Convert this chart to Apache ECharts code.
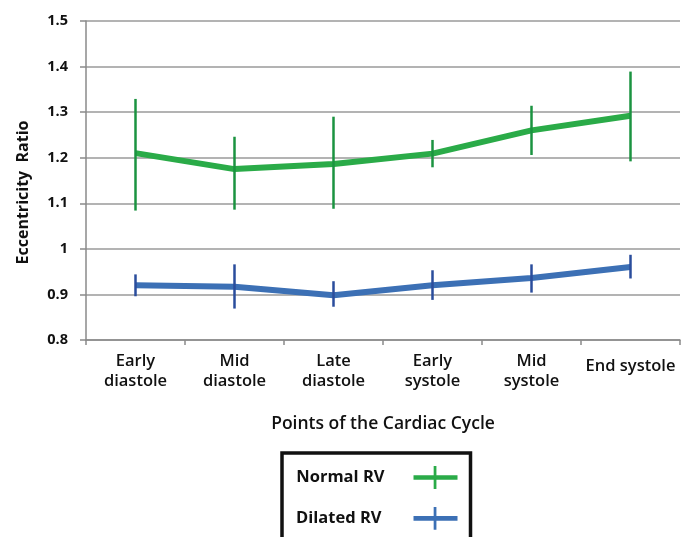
<!DOCTYPE html>
<html>
<head>
<meta charset="utf-8">
<script src="https://cdn.jsdelivr.net/npm/echarts@6/dist/echarts.min.js"></script>
<style>html,body{margin:0;padding:0;background:#fff}#c{width:682px;height:537px}</style>
</head>
<body>
<div id="c"></div>
<script>
const categories = ['Early\ndiastole', 'Mid\ndiastole', 'Late\ndiastole', 'Early\nsystole', 'Mid\nsystole', 'End systole'];
const normalMean = [1.21, 1.175, 1.186, 1.209, 1.26, 1.292];
const normalLow = [1.084, 1.086, 1.088, 1.179, 1.206, 1.192];
const normalHigh = [1.329, 1.246, 1.29, 1.239, 1.314, 1.389];
const dilatedMean = [0.92, 0.917, 0.898, 0.92, 0.936, 0.96];
const dilatedLow = [0.896, 0.869, 0.873, 0.888, 0.904, 0.935];
const dilatedHigh = [0.944, 0.966, 0.929, 0.953, 0.966, 0.987];
const yMin = 0.8, yMax = 1.5, yStep = 0.1;

const FONT = 'Open Sans';
function errData(low, high) { return low.map((l, i) => [i, l, high[i]]); }
function errSeries(low, high, color, width) {
  return {
    type: 'custom', z: 5, silent: true,
    data: errData(low, high),
    encode: { x: 0, y: [1, 2] },
    renderItem: function (params, api) {
      const a = api.coord([api.value(0), api.value(1)]);
      const b = api.coord([api.value(0), api.value(2)]);
      return { type: 'line', shape: { x1: a[0], y1: a[1], x2: b[0], y2: b[1] }, style: { stroke: color, lineWidth: width } };
    }
  };
}
const iconPath = 'path://M0,10H22V0H25V10H48V15H25V25H22V15H0Z';
const chart = echarts.init(document.getElementById('c'));
chart.setOption({
  animation: false,
  grid: { left: 86, right: 2, top: 21, bottom: 197, containLabel: false },
  xAxis: {
    type: 'category', data: categories, boundaryGap: true,
    name: 'Points of the Cardiac Cycle', nameLocation: 'middle', nameGap: 75,
    nameTextStyle: { fontFamily: FONT, fontSize: 17.5, fontWeight: 600, color: '#111' },
    axisLine: { lineStyle: { color: '#8a8a8a', width: 1.5 } },
    axisTick: { show: true, length: 5, lineStyle: { color: '#8a8a8a', width: 1.5 } },
    axisLabel: { fontFamily: FONT, fontSize: 16.5, fontWeight: 600, color: '#111', lineHeight: 20, margin: 11, interval: 0,
      formatter: v => v.indexOf('\n') < 0 ? '{s|' + v + '}' : v,
      rich: { s: { fontFamily: FONT, fontSize: 16.5, fontWeight: 600, color: '#111', lineHeight: 20, padding: [10, 0, 0, 0] } } }
  },
  yAxis: {
    type: 'value', min: yMin, max: yMax, interval: yStep,
    name: 'Eccentricity  Ratio', nameLocation: 'middle', nameGap: 55, nameRotate: 90,
    nameTextStyle: { fontFamily: FONT, fontSize: 16, fontWeight: 'bold', color: '#111', padding: [0, 24, 0, 0] },
    axisLine: { show: true, lineStyle: { color: '#8a8a8a', width: 1.5 } },
    axisTick: { show: true, length: 6, lineStyle: { color: '#8a8a8a', width: 1.5 } },
    splitLine: { lineStyle: { color: '#9a9a9a', width: 1.5 } },
    axisLabel: { fontFamily: FONT, fontSize: 14.5, fontWeight: 'bold', color: '#111', margin: 18,
      formatter: v => String(+v.toFixed(1)) }
  },
  legend: {
    orient: 'vertical', left: 282, top: 453, align: 'right', height: 140,
    borderColor: '#111', borderWidth: 3.5, padding: [13, 13, 30, 14],
    itemWidth: 44, itemHeight: 24, itemGap: 18,
    textStyle: { fontFamily: FONT, fontSize: 16.5, fontWeight: 'bold', color: '#111' },
    data: [
      { name: 'Normal RV', icon: iconPath, textStyle: { padding: [0, 24, 0, 0] } },
      { name: 'Dilated RV', icon: iconPath, textStyle: { padding: [0, 27, 0, 0] } }
    ]
  },
  series: [
    { name: 'Normal RV', type: 'line', data: normalMean, showSymbol: false, color: '#2aab48',
      lineStyle: { width: 6, color: '#2aab48' }, z: 3 },
    { name: 'Dilated RV', type: 'line', data: dilatedMean, showSymbol: false, color: '#3c70b5',
      lineStyle: { width: 6, color: '#3c70b5' }, z: 3 },
    errSeries(normalLow, normalHigh, '#1b9340', 2.5),
    errSeries(dilatedLow, dilatedHigh, '#2a4d9c', 2.5)
  ]
});
</script>
</body>
</html>
